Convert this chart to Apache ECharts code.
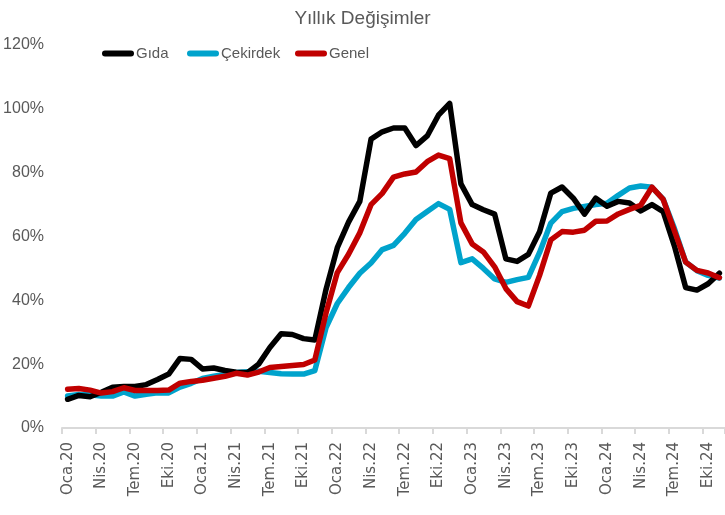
<!DOCTYPE html>
<html>
<head>
<meta charset="utf-8">
<script src="https://cdn.jsdelivr.net/npm/echarts@6/dist/echarts.min.js"></script>
<style>
  html, body { margin: 0; padding: 0; background: #fff; }
  #chart { width: 725px; height: 515px; }
</style>
</head>
<body>
<div id="chart"></div>
<script>
var monthAbbr = ['Oca', 'Şub', 'Mar', 'Nis', 'May', 'Haz', 'Tem', 'Ağu', 'Eyl', 'Eki', 'Kas', 'Ara'];
var years = ['20', '21', '22', '23', '24'];
var lastMonthCount = 59; // Oca.20 .. Kas.24

var gida = [
  9.0, 10.2, 9.8, 11.2, 12.8, 13.0, 13.0, 13.6, 15.2, 16.9, 21.8, 21.5,
  18.5, 18.8, 18.0, 17.5, 17.3, 20.0, 25.2, 29.5, 29.3, 28.0, 27.6, 43.5,
  56.5, 64.5, 71.0, 90.5, 92.8, 94.0, 94.0, 88.5, 91.5, 98.0, 101.7, 76.5,
  70.0, 68.4, 67.0, 53.0, 52.2, 54.4, 61.5, 73.6, 75.5, 72.0, 67.0, 72.0,
  69.5, 71.0, 70.5, 68.0, 70.0, 67.8, 57.0, 44.0, 43.2, 45.2, 48.5
];
var cekirdek = [
  10.0, 10.5, 10.4, 10.0, 10.0, 11.3, 10.0, 10.6, 11.0, 11.0, 12.8, 14.0,
  15.5, 16.2, 16.8, 17.4, 17.6, 17.8, 17.4, 17.0, 16.9, 16.9, 18.0, 31.5,
  39.0, 44.0, 48.5, 51.7, 55.9, 57.2, 61.0, 65.3, 67.8, 70.3, 68.5, 51.8,
  53.0, 50.0, 46.7, 45.6, 46.5, 47.2, 55.0, 64.2, 67.8, 68.8, 69.4, 70.0,
  70.4, 72.9, 75.2, 75.8, 75.4, 71.7, 62.5, 52.0, 49.3, 47.8, 47.0
];
var genel = [
  12.15, 12.37, 11.86, 10.94, 11.39, 12.62, 11.76, 11.77, 11.75, 11.89, 14.03, 14.60,
  14.97, 15.61, 16.19, 17.14, 16.59, 17.53, 18.95, 19.25, 19.58, 19.89, 21.31, 36.08,
  48.69, 54.44, 61.14, 69.97, 73.50, 78.62, 79.60, 80.21, 83.45, 85.51, 84.39, 64.27,
  57.68, 55.18, 50.51, 43.68, 39.59, 38.21, 47.83, 58.94, 61.53, 61.36, 61.98, 64.77,
  64.86, 67.07, 68.50, 69.80, 75.45, 71.60, 61.78, 51.97, 49.38, 48.58, 47.09
];

var months = [];
years.forEach(function(y) {
  monthAbbr.forEach(function(m) { months.push(m + '.' + y); });
});
months = months.slice(0, lastMonthCount);

var gray = '#595959';
var narrow = "'Liberation Sans Narrow', 'Liberation Sans', sans-serif";
var capsule = 'path://M3,0 H29 A3,3 0 0 1 29,6 H3 A3,3 0 0 1 3,0 Z';

// one legend per entry so each can sit where the reference puts it
function legendAt(name, x) {
  return {
    data: [name],
    left: x,
    top: 46,
    padding: 0,
    itemWidth: 32,
    itemHeight: 6,
    icon: capsule,
    textStyle: { color: gray, fontSize: 15, fontFamily: narrow, padding: [0, 0, 0, -3] }
  };
}

var chart = echarts.init(document.getElementById('chart'), null, { renderer: 'canvas' });
chart.setOption({
  animation: false,
  title: {
    text: 'Yıllık Değişimler',
    left: 'center',
    top: 4,
    textStyle: { color: gray, fontSize: 19, fontWeight: 'normal', fontFamily: narrow }
  },
  legend: [
    legendAt('Gıda', 102),
    legendAt('Çekirdek', 187),
    legendAt('Genel', 295)
  ],
  grid: { left: 62, right: -3, top: 45, bottom: 87 },
  xAxis: {
    type: 'category',
    data: months,
    boundaryGap: true,
    axisLine: { lineStyle: { color: '#d9d9d9', width: 2 } },
    axisTick: { show: true, interval: 2, length: 6, lineStyle: { color: '#d9d9d9', width: 2 } },
    axisLabel: {
      interval: 2,
      rotate: 90,
      margin: 14,
      color: gray,
      fontSize: 15,
      fontFamily: "'DejaVu Sans', sans-serif"
    },
    splitLine: { show: false }
  },
  yAxis: {
    type: 'value',
    min: 0,
    max: 120,
    interval: 20,
    axisLine: { show: false },
    axisTick: { show: false },
    splitLine: { show: false },
    axisLabel: {
      formatter: '{value}%',
      color: gray,
      fontSize: 16,
      margin: 18,
      fontFamily: narrow
    }
  },
  series: [
    {
      name: 'Çekirdek',
      type: 'line',
      data: cekirdek,
      showSymbol: false,
      lineStyle: { color: '#00a3cc', width: 5.5, cap: 'round', join: 'round' },
      itemStyle: { color: '#00a3cc' }
    },
    {
      name: 'Gıda',
      type: 'line',
      data: gida,
      showSymbol: false,
      lineStyle: { color: '#000000', width: 5.5, cap: 'round', join: 'round' },
      itemStyle: { color: '#000000' }
    },
    {
      name: 'Genel',
      type: 'line',
      data: genel,
      showSymbol: false,
      lineStyle: { color: '#c00000', width: 5.5, cap: 'round', join: 'round' },
      itemStyle: { color: '#c00000' }
    }
  ]
});
window.addEventListener('resize', function() { chart.resize(); });
</script>
</body>
</html>
